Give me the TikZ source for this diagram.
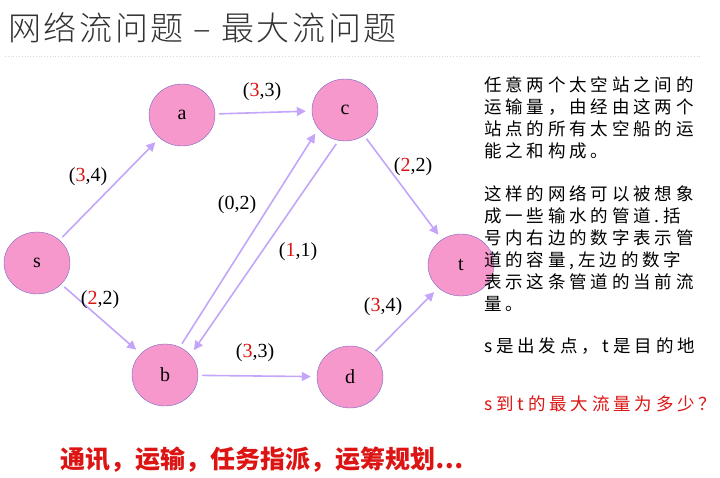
\documentclass[tikz,border=0pt]{standalone}
\usepackage{fontspec}
\setmainfont{Liberation Serif}
\newfontfamily\cjk{Noto Sans CJK SC}
\newfontfamily\cjkw{Noto Sans CJK SC}[LetterSpace=22]
\newfontfamily\cjkt{Noto Sans CJK SC Light}[LetterSpace=8]
\usetikzlibrary{arrows.meta,shapes.geometric}
\definecolor{nodefill}{RGB}{246,152,204}
\definecolor{nodeline}{RGB}{120,100,200}
\definecolor{arr}{RGB}{195,165,250}
\definecolor{redt}{RGB}{220,20,20}
\begin{document}
\begin{tikzpicture}[x=1pt,y=-1pt,
  vert/.style={ellipse,draw=nodeline,fill=nodefill,minimum width=66pt,minimum height=62pt,inner sep=0pt,font=\fontsize{20}{20}\selectfont},
  flow/.style={draw=arr,line width=1.6pt,-{Triangle[length=9pt,width=9pt]},shorten <=4pt,shorten >=6pt},
  lab/.style={font=\fontsize{20}{20}\selectfont},
  side/.style={anchor=north west,font=\cjkw\fontsize{17.5}{22}\selectfont,align=left,inner sep=0pt}]
\useasboundingbox (0,0) rectangle (720,478);
\node[anchor=west,inner sep=0pt,font=\cjkt\fontsize{33}{33}\selectfont,text=black!80] (title) at (8,28) {网络流问题 – 最大流问题};
\coordinate (l1) at (5,56); \coordinate (l2) at (700,56);
\draw[black!15,dotted,line width=0.8pt] (l1) -- (l2);
\node[vert] (a) at (182,115) {a};
\node[vert] (c) at (345,110) {c};
\node[vert] (s) at (37,263) {s};
\node[vert] (t) at (461,265) {t};
\node[vert] (b) at (165,375) {b};
\node[vert] (d) at (350,377) {d};
\draw[flow] (s) -- (a);
\draw[flow] (s) -- (b);
\draw[flow] (a) -- (c);
\draw[flow] (c) -- (t);
\draw[flow] (b.62) -- (c.215);
\draw[flow] (c.258) -- (b.38);
\draw[flow] (b) -- (d);
\draw[flow] (d) -- (t);
\node[lab] (l3) at (262,92) {(\textcolor{redt}{3},3)};
\node[lab] (l4) at (88,177) {(\textcolor{redt}{3},4)};
\node[lab] (l5) at (413,167) {(\textcolor{redt}{2},2)};
\node[lab] (l6) at (237,205) {(0,2)};
\node[lab] (l7) at (298,252) {(\textcolor{redt}{1},1)};
\node[lab] (l8) at (100,300) {(\textcolor{redt}{2},2)};
\node[lab] (l9) at (255,353) {(\textcolor{redt}{3},3)};
\node[lab] (l10) at (383,307) {(\textcolor{redt}{3},4)};
\node[side] (p1) at (484,76) {任意两个太空站之间的\\运输量，由经由这两个\\站点的所有太空船的运\\能之和构成。};
\node[side] (p2) at (484,185) {这样的网络可以被想象\\成一些输水的管道.括\\号内右边的数字表示管\\道的容量,左边的数字\\表示这条管道的当前流\\量。};
\node[side] (p3) at (484,338) {s是出发点，t是目的地};
\node[side,text=redt] (p4) at (484,396) {s到t的最大流量为多少？};
\node[anchor=west,inner sep=0pt,text=redt,font=\cjk\bfseries\fontsize{25}{25}\selectfont] (bot) at (60,460) {通讯，运输，任务指派，运筹规划…};
\end{tikzpicture}
\end{document}
